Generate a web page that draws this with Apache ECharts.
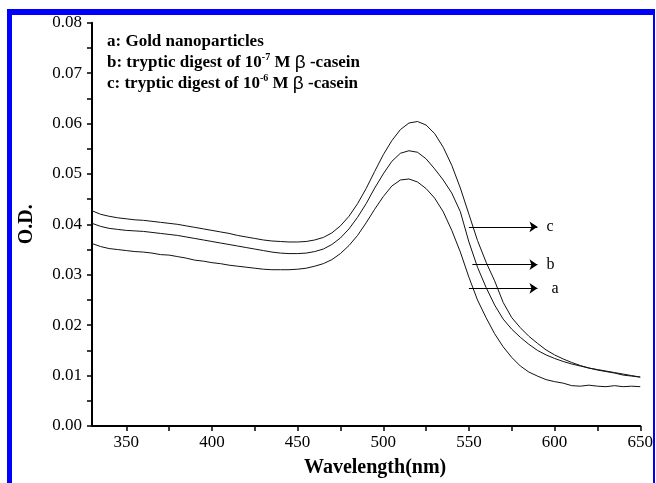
<!DOCTYPE html>
<html><head><meta charset="utf-8">
<script src="https://cdn.jsdelivr.net/npm/echarts@6/dist/echarts.min.js"></script>
<style>
html,body{margin:0;padding:0;background:#fff;}
#frame{position:absolute;left:7px;top:9px;width:648px;height:480px;border-top:6px solid #0000ff;border-left:5px solid #0000ff;border-right:2px solid #0000ff;box-sizing:border-box;}
#chart{position:absolute;left:0;top:0;width:656px;height:483px;}
</style></head>
<body>
<div id="frame"></div>
<div id="chart"></div>
<script>
const wavelengths = [330,335,340,345,350,355,360,365,370,375,380,385,390,395,400,405,410,415,420,425,430,435,440,445,450,455,460,465,470,475,480,485,490,495,500,505,510,515,520,525,530,535,540,545,550,555,560,565,570,575,580,585,590,595,600,605,610,615,620,625,630,635,640,645,650];
const seriesA = [.0362,.0356,.0352,.0350,.0348,.0346,.0345,.0343,.0340,.0339,.0336,.0333,.0329,.0327,.0324,.0322,.0319,.0317,.0315,.0313,.0311,.0310,.0310,.0310,.0311,.0313,.0317,.0322,.0330,.0342,.0358,.0378,.0403,.0430,.0455,.0476,.0488,.0490,.0484,.0471,.0452,.0425,.0388,.0345,.0295,.0250,.0215,.0183,.0157,.0136,.0119,.0107,.0099,.0092,.0088,.0085,.0080,.0079,.0081,.0079,.0078,.0080,.0078,.0079,.0078];
const seriesB = [.0402,.0396,.0392,.0390,.0388,.0387,.0386,.0384,.0382,.0380,.0378,.0375,.0372,.0369,.0366,.0363,.0360,.0357,.0354,.0351,.0348,.0345,.0343,.0342,.0342,.0343,.0346,.0351,.0360,.0373,.0391,.0414,.0441,.0472,.0500,.0525,.0541,.0546,.0543,.0530,.0510,.0488,.0462,.0425,.0365,.0315,.0275,.0240,.0212,.0192,.0176,.0162,.0150,.0141,.0134,.0128,.0123,.0119,.0115,.0112,.0109,.0106,.0103,.0100,.0097];
const seriesC = [.0427,.0420,.0416,.0413,.0411,.0409,.0408,.0406,.0404,.0402,.0400,.0397,.0394,.0391,.0388,.0385,.0382,.0378,.0375,.0372,.0369,.0367,.0366,.0365,.0365,.0366,.0369,.0374,.0383,.0397,.0416,.0441,.0471,.0505,.0538,.0566,.0588,.0601,.0604,.0597,.0580,.0553,.0517,.0472,.0420,.0368,.0325,.0288,.0245,.0215,.0195,.0178,.0164,.0151,.0141,.0133,.0126,.0120,.0115,.0111,.0108,.0105,.0101,.0099,.0097];
const xTickValues = [350,375,400,425,450,475,500,525,550,575,600,625,650];
const xLabelValues = [350,400,450,500,550,600,650];
const seriesNames = ['a','b','c'];
// arrow annotations: [start wavelength, end wavelength, O.D.]
const arrowA = [550, 590, 0.0273];
const arrowB = [552, 590, 0.0320];
const arrowC = [550, 590, 0.0395];

const chart = echarts.init(document.getElementById('chart'));
const serif = 'Liberation Serif';
function pairs(vals){ return wavelengths.map((w,i)=>[w, vals[i]]); }
function arrow(a, label, offset){
  return {
    silent: true, symbol: ['none','arrow'], symbolSize: 8,
    lineStyle: {color:'#000', width:1, type:'solid'},
    label: {show:true, position:'end', formatter: label, color:'#000', fontFamily: serif, fontSize: 16, distance: offset},
    data: [[{coord:[a[0], a[2]]},{coord:[a[1], a[2]]}]]
  };
}
const lineStyle = {color:'#111', width:1};
chart.setOption({
  animation:false,
  grid:{left:92, right:14, top:22.7, bottom:56},
  xAxis:{
    type:'value', min:330, max:650,
    name:'Wavelength(nm)', nameLocation:'middle', nameGap:32,
    nameTextStyle:{fontFamily:serif, fontWeight:'bold', fontSize:20, color:'#000', padding:[0,0,0,18]},
    axisLine:{show:true, lineStyle:{color:'#000', width:2}},
    axisTick:{show:true, customValues:xTickValues, length:5, lineStyle:{color:'#000', width:1.5}},
    axisLabel:{customValues:xLabelValues, color:'#000', fontFamily:serif, fontSize:17, margin:8},
    splitLine:{show:false}
  },
  yAxis:{
    type:'value', min:0, max:0.08, interval:0.01,
    name:'O.D.', nameLocation:'middle', nameGap:55,
    nameTextStyle:{fontFamily:serif, fontWeight:'bold', fontSize:20, color:'#000'},
    axisLine:{show:true, lineStyle:{color:'#000', width:2}},
    axisTick:{show:true, length:5, lineStyle:{color:'#000', width:1.5}},
    minorTick:{show:true, splitNumber:2, length:5, lineStyle:{color:'#000', width:1.5}},
    axisLabel:{color:'#000', fontFamily:serif, fontSize:17, margin:10, formatter:v=>v.toFixed(2)},
    splitLine:{show:false}
  },
  series:[
    {name:seriesNames[0], type:'line', data:pairs(seriesA), showSymbol:false, lineStyle, smooth:false, markLine:arrow(arrowA,'a',14)},
    {name:seriesNames[1], type:'line', data:pairs(seriesB), showSymbol:false, lineStyle, smooth:false, markLine:arrow(arrowB,'b',9)},
    {name:seriesNames[2], type:'line', data:pairs(seriesC), showSymbol:false, lineStyle, smooth:false, markLine:arrow(arrowC,'c',9)}
  ],
  graphic:[{
    type:'text', left:107, top:31,
    style:{
      text:'a: Gold nanoparticles\nb: tryptic digest of 10{sup|-7} M {beta|β} -casein\nc: tryptic digest of 10{sup|-6} M {beta|β} -casein',
      fontFamily:serif, fontWeight:'bold', fontSize:17, lineHeight:21, fill:'#000',
      rich:{
        sup:{fontFamily:serif, fontWeight:'bold', fontSize:10, verticalAlign:'top', padding:[0,0,8,0], lineHeight:21},
        beta:{fontFamily:'Liberation Sans', fontSize:19, lineHeight:21}
      }
    }
  }]
});
</script>
</body></html>
